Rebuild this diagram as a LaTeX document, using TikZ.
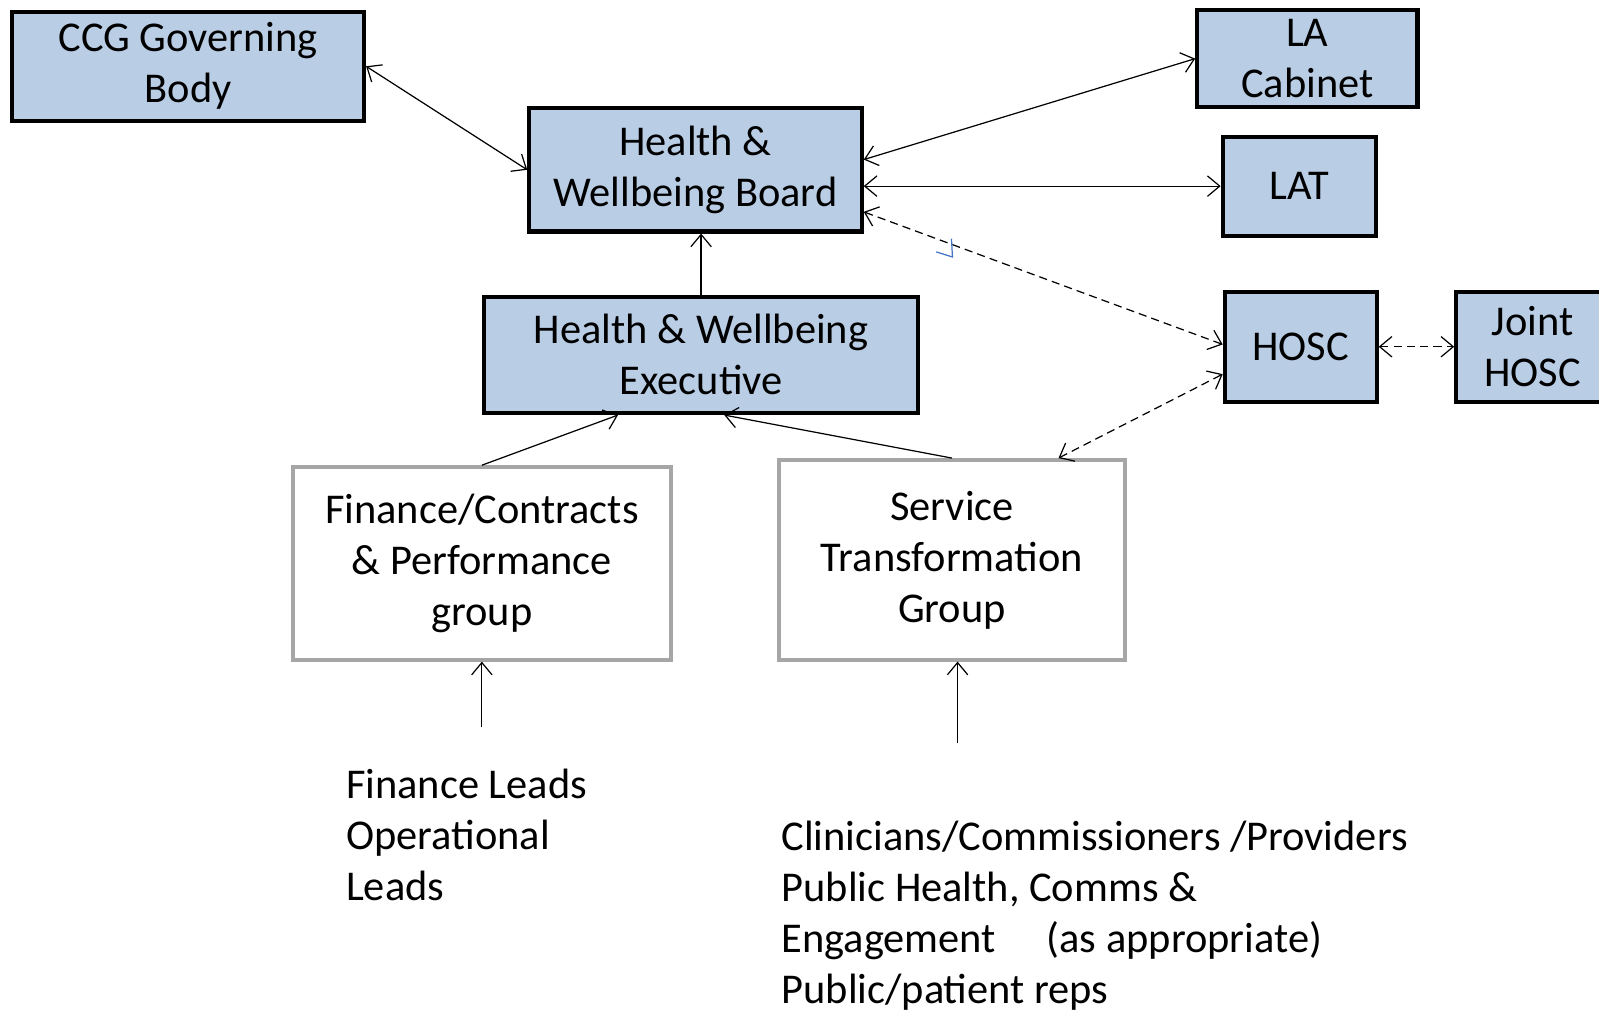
\documentclass[tikz,border=0pt]{standalone}
\usepackage{fontspec}
\setmainfont{Carlito}
\usetikzlibrary{arrows.meta,calc}

\definecolor{boardblue}{RGB}{185,205,229}
\definecolor{groupgrey}{RGB}{166,166,166}
\definecolor{markblue}{RGB}{68,114,196}

\begin{document}
\begin{tikzpicture}[x=0.5pt, y=-0.5pt,
  >={Straight Barb[length=6pt,width=10pt]},
  every node/.style={font=\fontsize{20.8}{25}\selectfont},
  board/.style={draw=black, line width=2pt, fill=boardblue, align=center, inner sep=0pt},
  group/.style={draw=groupgrey, line width=1.8pt, fill=white, align=center, inner sep=0pt},
  link/.style={line width=0.6pt},
  dlink/.style={line width=0.6pt, dash pattern=on 4pt off 2.5pt}]

  \useasboundingbox (0,0) rectangle (1568,992);

  % top row
  \node[board, minimum width=172.5pt, minimum height=53.5pt] (ccg) at (184.5,65) {CCG Governing\\Body};
  \node[board, minimum width=163pt, minimum height=60.5pt] (hwb) at (682,166.5) {Health \&\\Wellbeing Board};
  \node[board, minimum width=108pt, minimum height=47.5pt] (la) at (1282,57.5) {LA\\Cabinet};
  \node[board, minimum width=75pt, minimum height=48.5pt] (lat) at (1274,182.5) {LAT};
  \node[board, minimum width=74.5pt, minimum height=54pt] (hosc) at (1275.5,340) {HOSC};
  \node[board, minimum width=75pt, minimum height=54pt] (jhosc) at (1503,340) {Joint\\HOSC};

  % executive and groups
  \node[board, minimum width=212.5pt, minimum height=57pt] (hwe) at (687.5,348) {Health \& Wellbeing\\Executive};
  \node[group, minimum width=185.5pt, minimum height=94.5pt] (fin) at (472.5,552.5) {Finance/Contracts\\\& Performance\\group};
  \node[group, minimum width=169.5pt, minimum height=98pt] (stg) at (933.5,549) {Service\\Transformation\\Group};

  % members
  \node[align=left, anchor=west, inner sep=0pt] (finleads) at (339,819) {Finance Leads\\Operational\\Leads};
  \node[align=left, anchor=west, inner sep=0pt] (clin) at (766,898) {Clinicians/Commissioners /Providers\\Public Health, Comms \&\\Engagement\hspace{1.2em}(as appropriate)\\Public/patient reps};

  \coordinate (finfoot) at (472.5,713);
  \coordinate (stgfoot) at (939,729);

  % links
  \draw[link, <->] (ccg.east) -- (hwb.west);
  \draw[link, <->] ($(hwb.north east)!0.42!(hwb.south east)$) -- (la.west);
  \draw[link, <->] (hwb.east |- lat.west) -- (lat.west);
  \draw[dlink, <->] ($(hwb.north east)!0.83!(hwb.south east)$) -- ($(hosc.north west)!0.48!(hosc.south west)$);
  \draw[dlink, <->] ($(stg.north west)!0.805!(stg.north east)$) -- ($(hosc.north west)!0.74!(hosc.south west)$);
  \draw[dlink, <->] (hosc.east) -- (jhosc.west);
  \draw[link, ->] (hwe.north) -- (hwe.north |- hwb.south);
  \draw[link, ->] (fin.north) -- ($(hwe.south west)!0.31!(hwe.south east)$);
  \draw[link, ->] (stg.north) -- ($(hwe.south west)!0.553!(hwe.south east)$);
  \draw[link, ->] (finfoot) -- (fin.south);
  \draw[link, ->] (stgfoot) -- (stg.south -| stgfoot);

  % stray mark
  \draw[markblue, line width=0.6pt] (918,247) -- (934,252) -- (933,234);
\end{tikzpicture}
\end{document}
